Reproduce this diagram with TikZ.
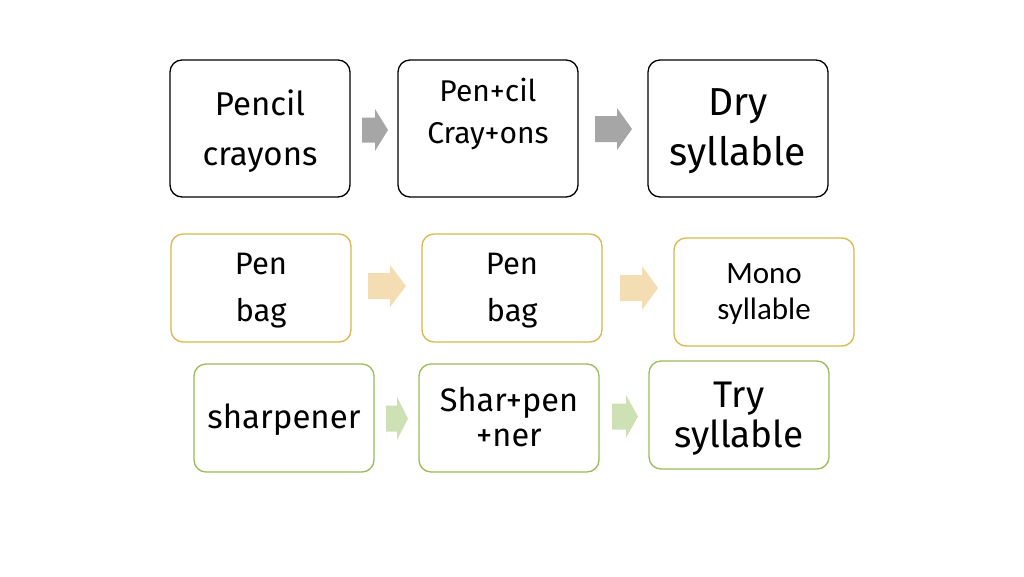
\documentclass[tikz,border=0pt]{standalone}
\usepackage{fontspec}
\setmainfont{Fira Sans}
\newfontfamily\calib{Carlito}
\definecolor{goldb}{HTML}{D8B84A}
\definecolor{greenb}{HTML}{9BBB59}
\definecolor{grayarr}{HTML}{A6A6A6}
\definecolor{peacharr}{HTML}{F5DDB3}
\definecolor{greenarr}{HTML}{CDE1B5}
\tikzset{
  box/.style={draw, rounded corners=12pt, line width=1.3pt, minimum width=180pt, inner sep=0pt, fill=white},
  blackbox/.style={box, draw=black, minimum height=137pt},
  goldbox/.style={box, draw=goldb, minimum height=108pt},
  greenbox/.style={box, draw=greenb, minimum height=108pt},
  txt/.style={align=center, inner sep=0pt},
}
% block arrow: #1 colour, #2 x start, #3 x tip, #4 y centre, #5 head half-height, #6 shaft half-height, #7 head length
\newcommand\blockarrow[7]{%
  \fill[#1] (#2,#4-#6) -- (#3-#7,#4-#6) -- (#3-#7,#4-#5) -- (#3,#4)
    -- (#3-#7,#4+#5) -- (#3-#7,#4+#6) -- (#2,#4+#6) -- cycle;}
\begin{document}
\begin{tikzpicture}[x=1pt,y=-1pt]
\useasboundingbox (0,0) rectangle (1024,576);
% row 1
\node[blackbox] (b11) at (260,128.5) {};
\node[txt, font=\fontsize{33}{50}\selectfont] (t11) at ([yshift=-2.5pt]b11.center) {Pencil\\crayons};
\node[blackbox] (b12) at (488,128.5) {};
\node[txt, font=\fontsize{30}{42}\selectfont] (t12) at ([yshift=15pt]b12.center) {Pen+cil\\Cray+ons};
\node[blackbox] (b13) at (738,128.5) {};
\node[txt, font=\fontsize{39}{50}\selectfont] (t13) at ([yshift=-2.5pt]b13.center) {Dry\\syllable};
\blockarrow{grayarr}{362}{388}{130}{21}{12.5}{13}
\blockarrow{grayarr}{595}{632}{129}{21}{13}{15}
% row 2
\node[goldbox] (b21) at (261,288) {};
\node[txt, font=\fontsize{31}{47}\selectfont] (t21) at ([yshift=-3pt]b21.center) {Pen\\bag};
\node[goldbox] (b22) at (512,288) {};
\node[txt, font=\fontsize{31}{47}\selectfont] (t22) at ([yshift=-3pt]b22.center) {Pen\\bag};
\node[goldbox] (b23) at (764,292) {};
\node[txt, font=\calib\fontsize{31}{36}\selectfont] (t23) at ([yshift=-2pt]b23.center) {Mono\\syllable};
\blockarrow{peacharr}{368}{406}{286}{21}{13}{16}
\blockarrow{peacharr}{620}{658}{288}{22}{13}{16}
% row 3
\node[greenbox] (b31) at (284,418) {};
\node[txt, font=\fontsize{33}{35}\selectfont] (t31) at ([yshift=-2pt]b31.center) {sharpener};
\node[greenbox] (b32) at (509,418) {};
\node[txt, font=\fontsize{32.5}{35}\selectfont] (t32) at ([yshift=0.5pt]b32.center) {Shar+pen\\+ner};
\node[greenbox] (b33) at (739,415) {};
\node[txt, font=\fontsize{37}{40}\selectfont] (t33) at ([yshift=-3.5pt]b33.center) {Try\\syllable};
\blockarrow{greenarr}{386}{408}{418.5}{21.5}{13}{11}
\blockarrow{greenarr}{612}{638}{416.5}{21.5}{13}{12}
\end{tikzpicture}
\end{document}
